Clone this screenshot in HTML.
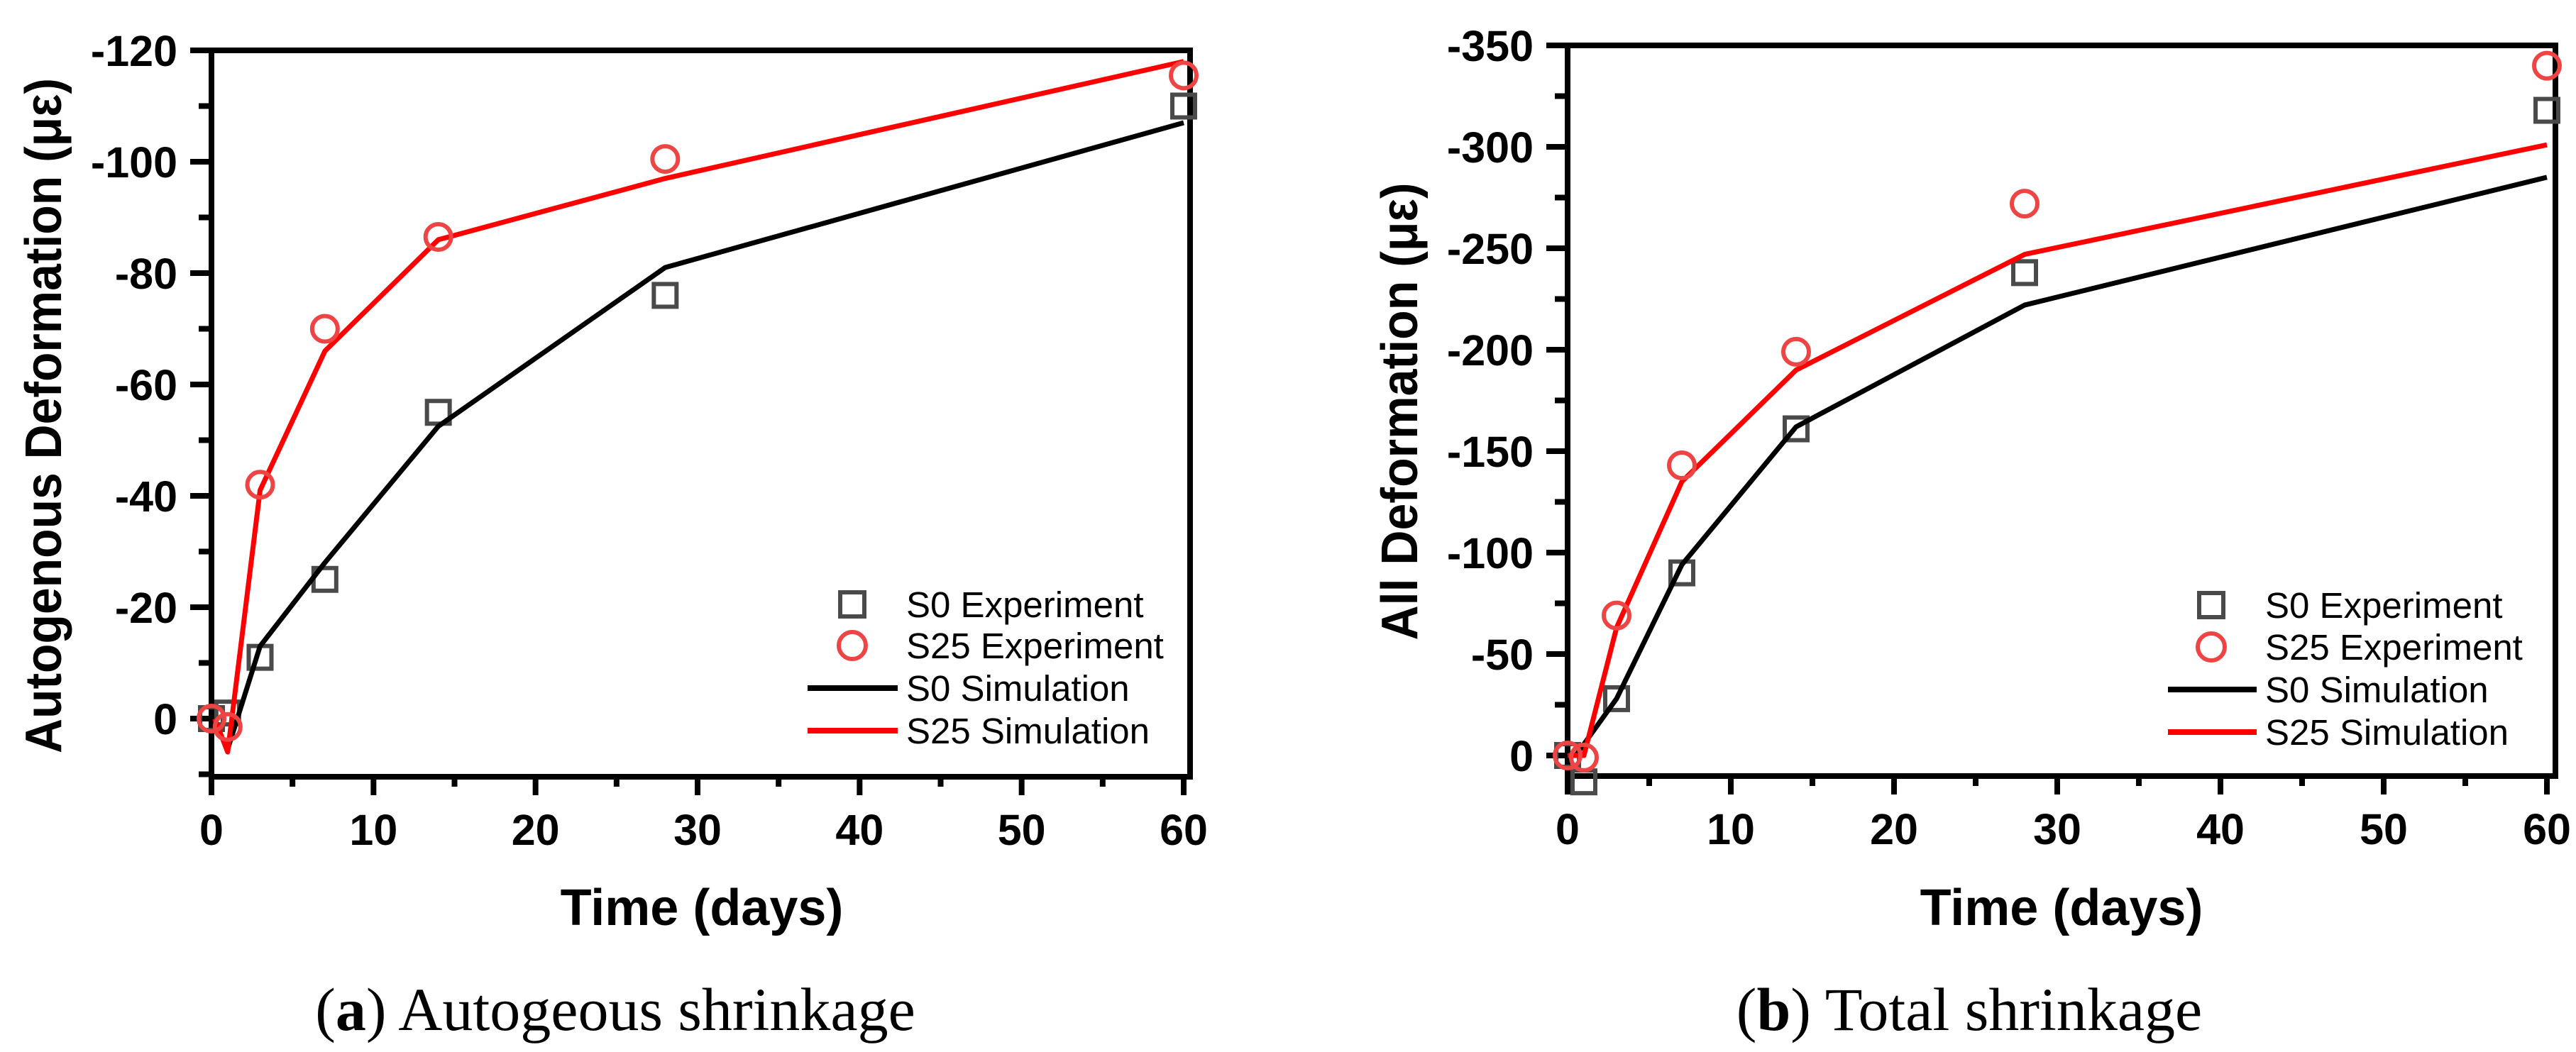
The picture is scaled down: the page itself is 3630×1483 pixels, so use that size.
<!DOCTYPE html>
<html><head><meta charset="utf-8">
<style>
html,body{margin:0;padding:0;background:#fff;}
svg{display:block;}
text{font-family:"Liberation Sans",sans-serif;}
.tick{font-weight:bold;font-size:61px;}
.ttl{font-weight:bold;font-size:72px;}
.leg{font-size:51px;}
.cap{font-family:"Liberation Serif",serif;font-size:86px;}
</style></head>
<body>
<svg id="fig" width="3630" height="1483" viewBox="0 0 3630 1483" xmlns="http://www.w3.org/2000/svg"></svg>
<script>
// Panel (a) data
const daysA = [0, 1, 3, 7, 14, 28, 60];
const s0ExpA = [0, -1, -11, -25, -55, -76, -110];
const s25ExpDaysA = [0, 1, 3, 7, 14, 28, 60];
const s25ExpA = [0, 1.5, -42, -70, -86.5, -100.5, -115.5];
const simDaysA = [1, 3, 7, 14, 28, 60];
const s0SimA = [5.5, -13, -28, -52.5, -81, -107];
const s25SimDaysA = [0.2, 1, 3, 7, 14, 28, 60];
const s25SimA = [0, 6, -41, -66, -86, -97, -118];
const yTicksA = [0, -20, -40, -60, -80, -100, -120];
const yMinorA = [10, -10, -30, -50, -70, -90, -110];
// Panel (b) data
const s0ExpDaysB = [0, 1, 3, 7, 14, 28, 60];
const s0ExpB = [0, 13, -28, -90, -161, -238, -318];
const s25ExpDaysB = [0, 1, 3, 7, 14, 28, 60];
const s25ExpB = [0, 1, -69, -143, -199, -272, -340];
const s0SimDaysB = [0.5, 3, 7, 14, 28, 60];
const s0SimB = [0, -28, -94, -162, -222, -285];
const s25SimDaysB = [0, 1, 3, 7, 14, 28, 60];
const s25SimB = [0, 0, -63, -135, -190, -247, -301];
const yTicksB = [0, -50, -100, -150, -200, -250, -300, -350];
const yMinorB = [-25, -75, -125, -175, -225, -275, -325];
const xTicks = [0, 10, 20, 30, 40, 50, 60];
const xMinor = [5, 15, 25, 35, 45, 55];

const NS = "http://www.w3.org/2000/svg";
const svg = document.getElementById("fig");
function mk(tag, attrs, parent, txt) {
  const e = document.createElementNS(NS, tag);
  for (const k in attrs) e.setAttribute(k, attrs[k]);
  if (txt !== undefined) e.textContent = txt;
  (parent || svg).appendChild(e);
  return e;
}

function panel(cfg) {
  const g = mk("g", {});
  
  
  const X = v => cfg.x0 + (v - 0) * (cfg.x60 - cfg.x0) / 60;
  const Y = v => cfg.top + (v - cfg.ymin) * (cfg.y0 - cfg.top) / (0 - cfg.ymin);
  cfg.yTicks.forEach(v => {
    const t = mk("line", {x1: cfg.left - 30, x2: cfg.left, y1: Y(v), y2: Y(v), stroke: "#000", "stroke-width": 8}, g);
    
    
    const l = mk("text", {x: cfg.left - 48, y: Y(v) + 22, "text-anchor": "end", class: "tick"}, g, String(v));
    
    
  });
  cfg.yMinor.forEach(v => {
    const t = mk("line", {x1: cfg.left - 18, x2: cfg.left, y1: Y(v), y2: Y(v), stroke: "#000", "stroke-width": 8}, g);
    
    
  });
  xTicks.forEach(v => {
    const t = mk("line", {x1: X(v), x2: X(v), y1: cfg.bottom, y2: cfg.bottom + 26, stroke: "#000", "stroke-width": 8}, g);
    
    
    const l = mk("text", {x: X(v), y: cfg.bottom + 96, "text-anchor": "middle", class: "tick"}, g, String(v));
    
    
  });
  xMinor.forEach(v => {
    const t = mk("line", {x1: X(v), x2: X(v), y1: cfg.bottom, y2: cfg.bottom + 14, stroke: "#000", "stroke-width": 8}, g);
    
    
  });
  const fr = mk("rect", {x: cfg.left, y: cfg.top, width: cfg.right - cfg.left, height: cfg.bottom - cfg.top, fill: "none", stroke: "#000", "stroke-width": 8}, g);
  
  
  function line(xs, ys, color, nm) {
    const p = mk("polyline", {points: xs.map((x, i) => X(x) + "," + Y(ys[i])).join(" "), fill: "none", stroke: color, "stroke-width": 7, "stroke-linejoin": "round"}, g);
    
    
  }
  cfg.s0ExpX.forEach((x, i) => {
    const r = mk("rect", {x: X(x) - 16, y: Y(cfg.s0Exp[i]) - 16, width: 32, height: 32, fill: "none", stroke: "#4a4a4a", "stroke-width": 6}, g);
    
    
  });
  line(cfg.s0SimX, cfg.s0Sim, "#000", "s0-simulation-line");
  line(cfg.s25SimX, cfg.s25Sim, "#ff0000", "s25-simulation-line");
  cfg.s25ExpX.forEach((x, i) => {
    const c = mk("circle", {cx: X(x), cy: Y(cfg.s25Exp[i]), r: 18, fill: "none", stroke: "#ee4444", "stroke-width": 6}, g);
    
    
  });
  const xt = mk("text", {x: cfg.xTitleX, y: 1304, "text-anchor": "middle", class: "ttl"}, g, "Time (days)");
  
  
  const yt = mk("text", {x: 0, y: 0, "text-anchor": "middle", class: "ttl", textLength: cfg.yTitleLen, lengthAdjust: "spacingAndGlyphs", transform: "translate(" + cfg.yTitleX + "," + cfg.yTitleY + ") rotate(-90)"}, g, cfg.yTitle);
  
  
  const lg = mk("g", {}, g);
  
  
  const L = cfg.leg;
  const m1 = mk("rect", {x: L.mx - 17, y: L.rows[0] - 17, width: 34, height: 34, fill: "none", stroke: "#4a4a4a", "stroke-width": 6}, lg);
  
  
  const m2 = mk("circle", {cx: L.mx, cy: L.rows[1], r: 19, fill: "none", stroke: "#ee4444", "stroke-width": 6}, lg);
  
  
  const m3 = mk("line", {x1: L.l1, x2: L.l2, y1: L.rows[2], y2: L.rows[2], stroke: "#000", "stroke-width": 8}, lg);
  
  
  const m4 = mk("line", {x1: L.l1, x2: L.l2, y1: L.rows[3], y2: L.rows[3], stroke: "#ff0000", "stroke-width": 8}, lg);
  
  
  ["S0 Experiment", "S25 Experiment", "S0 Simulation", "S25 Simulation"].forEach((s, i) => {
    const t = mk("text", {x: L.tx, y: L.rows[i] + 18, class: "leg"}, lg, s);
    
    
  });
  const cp = mk("text", {x: cfg.capX, y: 1452, "text-anchor": "middle", class: "cap"}, g);
  
  
  mk("tspan", {}, cp, "(");
  mk("tspan", {"font-weight": "bold"}, cp, cfg.letter);
  mk("tspan", {}, cp, ") " + cfg.caption);
}

panel({name: "panel-a-autogenous", left: 298, right: 1677, top: 71, bottom: 1095, x0: 298, x60: 1668,
  ymin: -120, y0: 1013,
  yTicks: yTicksA, yMinor: yMinorA,
  s0ExpX: daysA, s0Exp: s0ExpA, s25ExpX: s25ExpDaysA, s25Exp: s25ExpA,
  s0SimX: simDaysA, s0Sim: s0SimA, s25SimX: s25SimDaysA, s25Sim: s25SimA,
  xTitleX: 989, yTitleX: 86, yTitleY: 586, yTitleLen: 952, yTitle: "Autogenous Deformation (με)",
  leg: {mx: 1201, tx: 1277, l1: 1138, l2: 1265, rows: [852, 910, 970, 1030]},
  capX: 867, letter: "a", caption: "Autogeous shrinkage"});

panel({name: "panel-b-total", left: 2209, right: 3601, top: 64, bottom: 1094, x0: 2209, x60: 3589,
  ymin: -350, y0: 1065,
  yTicks: yTicksB, yMinor: yMinorB,
  s0ExpX: s0ExpDaysB, s0Exp: s0ExpB, s25ExpX: s25ExpDaysB, s25Exp: s25ExpB,
  s0SimX: s0SimDaysB, s0Sim: s0SimB, s25SimX: s25SimDaysB, s25Sim: s25SimB,
  xTitleX: 2905, yTitleX: 1997, yTitleY: 580, yTitleLen: 645, yTitle: "All Deformation (με)",
  leg: {mx: 3116, tx: 3192, l1: 3055, l2: 3180, rows: [853, 912, 972, 1032]},
  capX: 2775, letter: "b", caption: "Total shrinkage"});
</script>
</body></html>
